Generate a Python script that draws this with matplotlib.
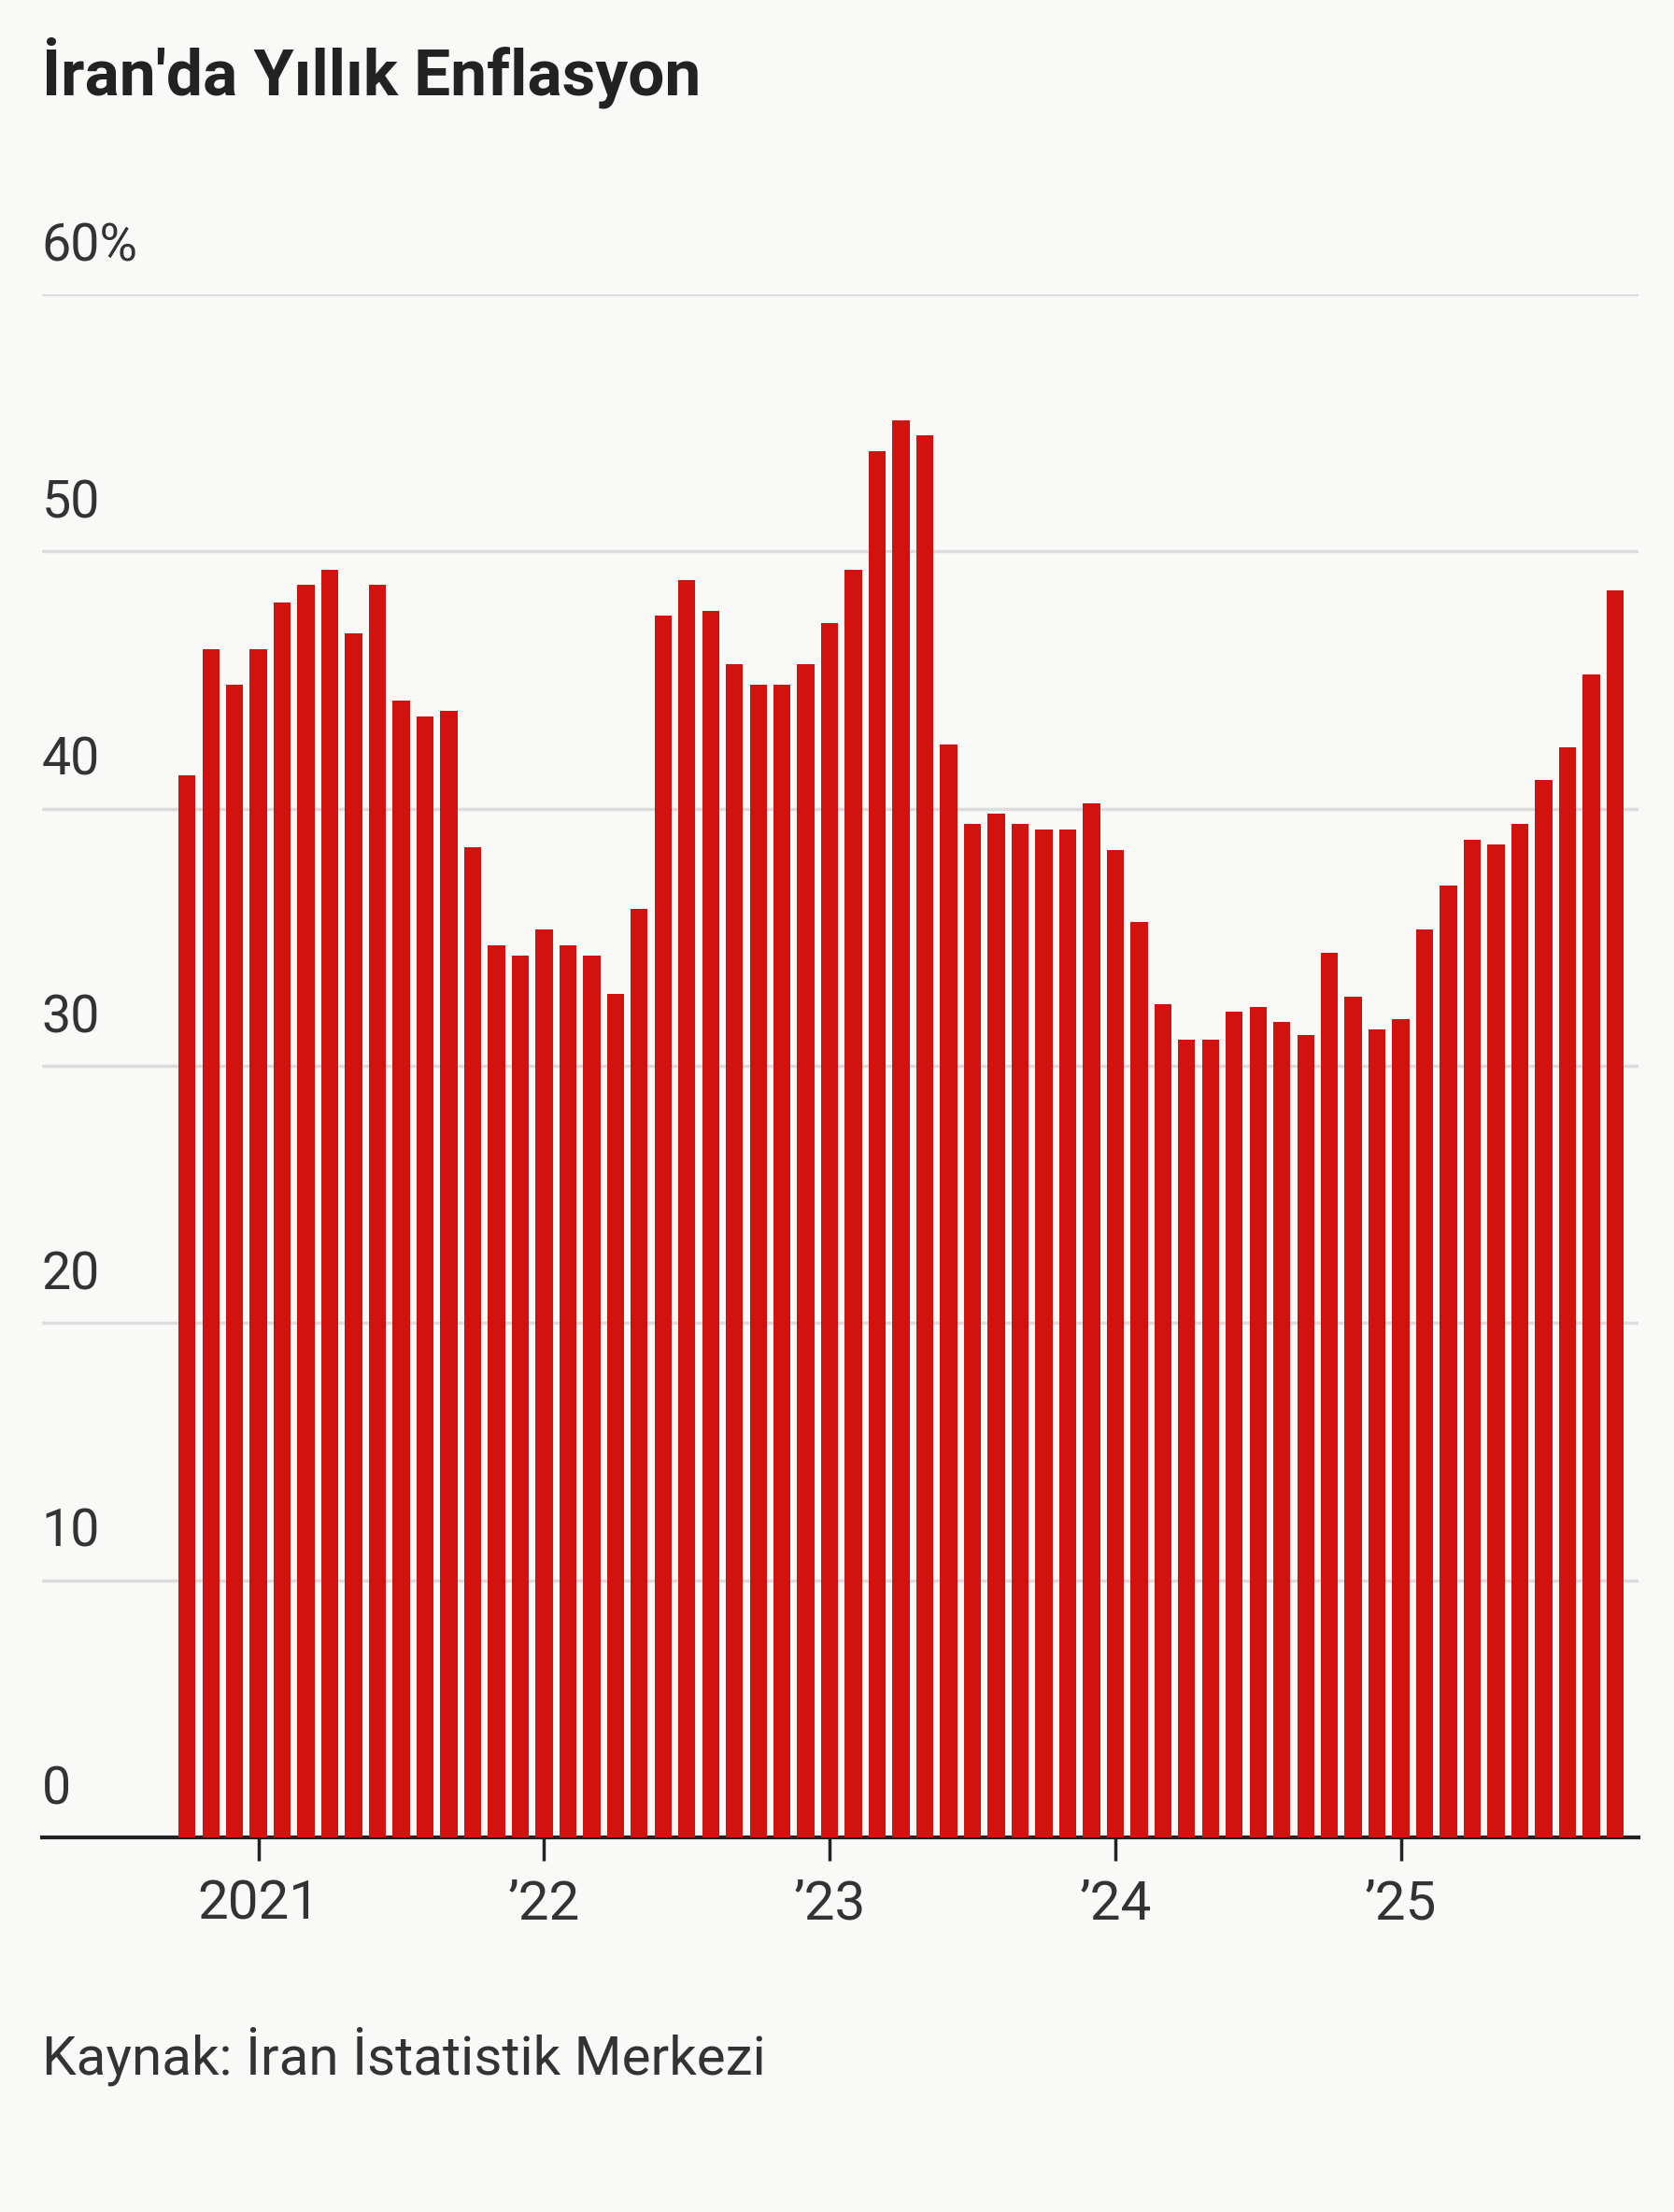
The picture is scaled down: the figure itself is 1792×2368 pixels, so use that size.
import matplotlib
matplotlib.use("Agg")
import matplotlib.pyplot as plt

values = [41.3,46.2,44.8,46.2,48.0,48.7,49.3,46.8,48.7,44.2,43.6,43.8,
          38.5,34.7,34.3,35.3,34.7,34.3,32.8,36.1,47.5,48.9,47.7,45.6,
          44.8,44.8,45.6,47.2,49.3,53.9,55.1,54.5,42.5,39.4,39.8,39.4,
          39.2,39.2,40.2,38.4,35.6,32.4,31.0,31.0,32.1,32.3,31.7,31.2,
          34.4,32.7,31.4,31.8,35.3,37.0,38.8,38.6,39.4,41.1,42.4,45.2,48.5]
tick_idx = [3, 15, 27, 39, 51]
tick_labels = ["2021", "\u201922", "\u201923", "\u201924", "\u201925"]
y_ticks = [0, 10, 20, 30, 40, 50, 60]
y_labels = ["0", "10", "20", "30", "40", "50", "60%"]

fam = ['Liberation Sans Narrow', 'Roboto', 'DejaVu Sans']
bg = '#f9f9f7'
fig = plt.figure(figsize=(17.92, 23.68), dpi=100, facecolor=bg)
ax = fig.add_axes([0.025, 0.1693, 0.954, 0.6977], facecolor=bg)
ax.bar(range(len(values)), values, width=0.72, color='#d2120f', zorder=3)
ax.set_xlim(-6.1, 61.0)
ax.set_ylim(0, 60)
for v in y_ticks[1:]:
    ax.axhline(v, color='#dcdcdc', lw=2.5, zorder=1)
for v, l in zip(y_ticks, y_labels):
    ax.text(0.0, v + 0.9, l, transform=ax.get_yaxis_transform(), ha='left', va='bottom',
            fontsize=40, color='#333333', family=fam)
ax.set_yticks([])
for s in ['top', 'right', 'left']:
    ax.spines[s].set_visible(False)
ax.spines['bottom'].set_linewidth(3)
ax.spines['bottom'].set_color('#222222')
ax.set_xticks(tick_idx)
ax.set_xticklabels(tick_labels, fontsize=42, color='#333333', family=fam)
ax.tick_params(axis='x', length=18, width=2.5, color='#222222', pad=14)

fig.text(0.025, 0.967, "\u0130ran'da Y\u0131ll\u0131k Enflasyon", fontsize=50, fontweight='bold',
         color='#222222', va='center', ha='left', family=['Roboto', 'DejaVu Sans'])
fig.text(0.025, 0.0705, "Kaynak: \u0130ran \u0130statistik Merkezi", fontsize=42, color='#333333',
         va='center', ha='left', family=fam)
fig.savefig("out.png", dpi=100, facecolor=bg)
